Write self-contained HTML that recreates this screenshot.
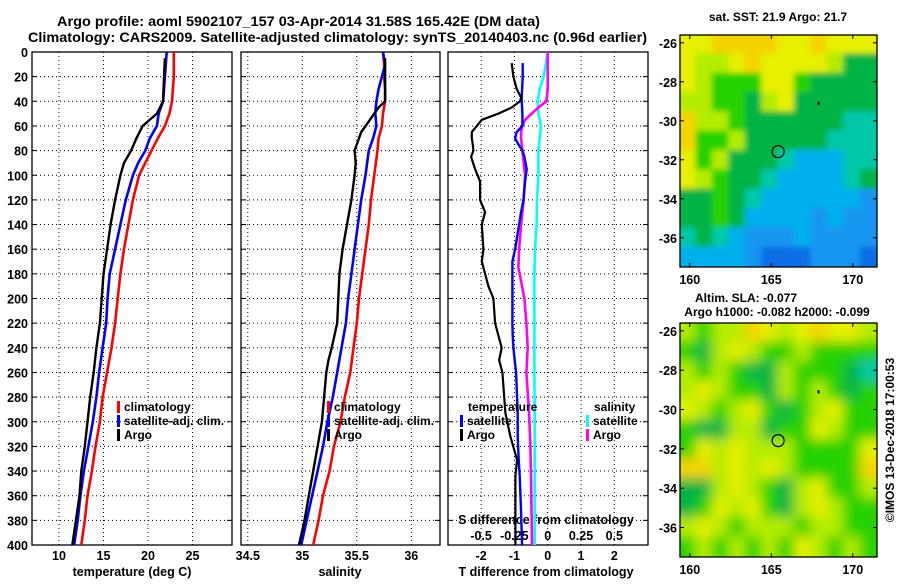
<!DOCTYPE html>
<html><head><meta charset="utf-8"><style>
html,body{margin:0;padding:0;background:#fff;}
svg text{font-family:"Liberation Sans",Arial,sans-serif;font-weight:bold;fill:#000;}
</style></head><body>
<svg id="fig" xmlns="http://www.w3.org/2000/svg" width="900" height="580" viewBox="0 0 900 580">
<defs>
<filter id="blur1" filterUnits="userSpaceOnUse" x="660" y="15" width="240" height="275"><feGaussianBlur stdDeviation="3"/></filter>
<filter id="blur2" filterUnits="userSpaceOnUse" x="660" y="300" width="240" height="280"><feGaussianBlur stdDeviation="6"/></filter>
<clipPath id="cm1"><rect x="680" y="35" width="197" height="232"/></clipPath>
<clipPath id="cm2"><rect x="680" y="323" width="197" height="234"/></clipPath>
</defs>
<text x="57" y="26" font-size="14" textLength="483" lengthAdjust="spacingAndGlyphs">Argo profile: aoml 5902107_157 03-Apr-2014 31.58S 165.42E (DM data)</text>
<text x="28" y="42" font-size="14" textLength="619" lengthAdjust="spacingAndGlyphs">Climatology: CARS2009. Satellite-adjusted climatology: synTS_20140403.nc (0.96d earlier)</text>
<g id="g"></g>
</svg>
<script>
// ---------- data ----------
const depthT = [0,20,40,50,60,70,80,90,100,120,140,160,180,200,220,240,260,280,300,320,340,360,380,400];
const tempClim = [22.9,22.9,22.7,22.4,21.9,21.1,20.4,19.7,19.0,18.3,17.8,17.3,16.9,16.6,16.3,15.9,15.4,14.9,14.6,14.1,13.7,13.2,12.9,12.5];
const tempSat  = [22.1,21.9,21.7,21.2,21.0,20.2,19.7,18.9,18.3,17.5,16.9,16.3,15.7,15.45,15.3,14.9,14.5,14.2,13.8,13.3,12.8,12.4,12.1,11.7];
const depthArgo = [5,20,40,50,60,70,80,90,100,120,140,160,180,200,220,240,260,280,300,320,340,360,380,400];
const tempArgo = [21.9,21.8,21.7,21.0,19.4,18.7,18.1,17.3,16.9,16.3,15.8,15.4,15.0,14.8,14.6,14.2,13.9,13.5,13.2,12.9,12.5,12.3,11.9,11.5];
const depthS = [0,10,20,30,40,50,60,70,80,100,120,140,160,180,200,220,240,260,280,300,320,340,360,380,400];
const salClim = [35.74,35.75,35.75,35.76,35.76,35.74,35.73,35.70,35.69,35.66,35.63,35.61,35.58,35.55,35.52,35.50,35.47,35.44,35.39,35.35,35.29,35.25,35.19,35.15,35.10];
const salSat  = [35.74,35.76,35.73,35.70,35.68,35.67,35.68,35.65,35.61,35.58,35.54,35.51,35.48,35.45,35.42,35.40,35.36,35.32,35.28,35.23,35.19,35.14,35.09,35.04,34.99];
const depthSA = [5,40,45,55,65,75,80,90,100,120,140,160,180,200,220,240,250,260,280,300,320,340,360,380,400];
const salArgo = [35.76,35.76,35.70,35.62,35.54,35.50,35.48,35.49,35.48,35.45,35.41,35.37,35.34,35.33,35.32,35.27,35.24,35.22,35.20,35.18,35.14,35.10,35.06,35.02,34.97];
const depthD = [9,20,30,37,40,45,50,55,60,65,70,75,80,85,95,105,120,130,140,160,170,180,190,200,220,230,240,250,260,293,312,331,344,374,400];
const dTArgo = [-1.08,-1.03,-0.93,-0.8,-0.83,-1.08,-1.48,-1.98,-2.13,-2.28,-2.28,-2.25,-2.23,-2.3,-2.18,-2.03,-2.03,-1.88,-1.98,-1.93,-1.98,-1.88,-1.78,-1.63,-1.58,-1.48,-1.38,-1.46,-1.36,-1.27,-1.12,-0.92,-0.97,-0.97,-0.97];
const dTSat = [-0.75,-0.75,-0.77,-0.78,-0.78,-0.77,-0.76,-0.76,-0.76,-0.93,-0.98,-0.88,-0.76,-0.7,-0.63,-0.68,-0.73,-0.8,-0.86,-0.98,-1.06,-1.06,-1.06,-1.06,-1.06,-1.05,-1.03,-0.99,-0.95,-0.9,-0.9,-0.87,-0.84,-0.8,-0.77];
const depthDS = [0,10,20,30,40,45,50,55,60,65,70,80,100,120,140,160,175,180,200,220,240,260,293,320,347,400];
const dSArgo = [0,0,0,0,-0.01,-0.07,-0.12,-0.17,-0.19,-0.2,-0.2,-0.19,-0.17,-0.18,-0.2,-0.215,-0.22,-0.21,-0.175,-0.16,-0.15,-0.16,-0.14,-0.13,-0.125,-0.1175];
const dSSat  = [0,-0.015,-0.03,-0.06,-0.075,-0.072,-0.07,-0.06,-0.05,-0.055,-0.06,-0.07,-0.07,-0.08,-0.083,-0.095,-0.098,-0.1,-0.1,-0.1,-0.1,-0.1,-0.0975,-0.0975,-0.0975,-0.0975];
const depthTicks = [0,20,40,60,80,100,120,140,160,180,200,220,240,260,280,300,320,340,360,380,400];
const tempTicks = [10,15,20,25];
const salTicks = [34.5,35,35.5,36];
const dTTicks = [-2,-1,0,1,2];
const dSTicks = [-0.5,-0.25,0,0.25,0.5];
const dSTickLabels = ["-0.5","-0.25","0","0.25","0.5"];
const latTicks = [-26,-28,-30,-32,-34,-36];
const lonTicks = [160,165,170];
const sstGrid = ["YYOOOOYYOYYY","YLLYOYYYYLDD","YLGGGYYGDDDD","LLGGDLYDDDDD","OLLGDDDDDDTT","OGGLDDDDDTTT","YGLDDDTCCCTT","YLGDDTCCCCTD","DDGDTCCCCCCB","DDGDCCCCBCBB","TDTCBBBCBBBB","CCCCBNNNBBBN"];
const slaGrid = ["LGLLOYLYOYYL","GDLYLGGLGGGG","LGLGDDLGGGDT","LYLGGDLGLGDG","YLGLYGDGLYGG","GDDLLDGGYLGG","GYLYLLLGGGGY","OOLYLYLGGGGO","DDLYLGDLYGGL","DGYLYGDLYLGG","LYLGLLLGLLGG","GLGLGLGYLGLG"];
const argoLon = 165.42, argoLat = -31.58;

// ---------- helpers ----------
const NS="http://www.w3.org/2000/svg";
const G=document.getElementById('g');
function mk(tag,attrs,parent){const e=document.createElementNS(NS,tag);for(const k in attrs)e.setAttribute(k,attrs[k]);(parent||G).appendChild(e);return e;}
const Y0=52, YS=1.2325;
const yD = d => Y0 + d*YS;
const xT = t => 59 + (t-10)*8.9;
const xS = s => 302.3 + (s-35)*109;
const xDT = t => 547.7 + t*33.3;
const xDS = s => 547.7 + s*133.2;
const panels=[{x:32,w:200,name:'temperature-panel'},{x:241,w:199,name:'salinity-panel'},{x:448,w:200,name:'difference-panel'}];

function panel(p,vticks,xf){
  const g=mk('g',{});
  
  
  depthTicks.forEach(d=>{ if(d>0&&d<400){
    const l=mk('line',{x1:p.x,x2:p.x+p.w,y1:yD(d),y2:yD(d),stroke:'#000','stroke-width':1,'stroke-dasharray':'1,3'},g);
    
    
  }
    mk('line',{x1:p.x,x2:p.x+5,y1:yD(d),y2:yD(d),stroke:'#000'},g);
    mk('line',{x1:p.x+p.w-5,x2:p.x+p.w,y1:yD(d),y2:yD(d),stroke:'#000'},g);
  });
  vticks.forEach(v=>{const x=xf(v); if(x>p.x+1&&x<p.x+p.w-1){
    const l=mk('line',{x1:x,x2:x,y1:Y0,y2:yD(400),stroke:'#000','stroke-width':1,'stroke-dasharray':'1,3'},g);
    
    
  }});
  const r=mk('rect',{x:p.x,y:Y0,width:p.w,height:yD(400)-Y0,fill:'none',stroke:'#000','stroke-width':1.3},g);
  
  
  return g;
}
function line(xs,ds,xf,color,w,name){
  const pts=xs.map((v,i)=>xf(v).toFixed(1)+','+yD(ds[i]).toFixed(1)).join(' ');
  const e=mk('polyline',{points:pts,fill:'none',stroke:color,'stroke-width':w,'stroke-linejoin':'round'});
  
  
}
function txt(x,y,s,size,anchor,name){
  const e=mk('text',{x:x,y:y,'font-size':size,'text-anchor':anchor||'start'});
  e.textContent=s;
  
  
  return e;
}
function legend(x,y,color,label,name){
  const r=mk('rect',{x:x,y:y-10,width:3,height:12,fill:color});
  
  
  txt(x+7,y,label,12,'start',name);
}

// ---------- panels ----------
panel(panels[0],tempTicks,xT);
panel(panels[1],salTicks,xS);
panel(panels[2],dTTicks,xDT);
depthTicks.forEach(d=>txt(28,yD(d)+5,String(d),12.5,'end','depth-tick-label'));
tempTicks.forEach(t=>txt(xT(t),560,String(t),12.5,'middle','temp-tick-label'));
salTicks.forEach(s=>txt(xS(s),560,String(s),12.5,'middle','salinity-tick-label'));
dTTicks.forEach(t=>txt(xDT(t),560,String(t),12.5,'middle','tdiff-tick-label'));
dSTicks.forEach((s,i)=>txt(xDS(s),540,dSTickLabels[i],12.5,'middle','sdiff-tick-label'));
txt(132,576,'temperature (deg C)',12.5,'middle','temperature-axis-title');
txt(340,576,'salinity',12.5,'middle','salinity-axis-title');
txt(546,576,'T difference from climatology',12.5,'middle','tdiff-axis-title');
txt(546,524,'S difference from climatology',12.5,'middle','sdiff-axis-title');

// series
line(tempClim,depthT,xT,'#ff0000',2.6,'temp-climatology-line');
line(tempSat,depthT,xT,'#0000ff',2.6,'temp-satellite-line');
line(tempArgo,depthArgo,xT,'#000000',2.4,'temp-argo-line');
line(salClim,depthS,xS,'#ff0000',2.6,'salinity-climatology-line');
line(salSat,depthS,xS,'#0000ff',2.6,'salinity-satellite-line');
line(salArgo,depthSA,xS,'#000000',2.4,'salinity-argo-line');
line(dSSat,depthDS,xDS,'#00ffff',2.6,'sdiff-satellite-line');
line(dSArgo,depthDS,xDS,'#ff00ff',2.6,'sdiff-argo-line');
line(dTSat,depthD,xDT,'#0000ff',2.4,'tdiff-satellite-line');
line(dTArgo,depthD,xDT,'#000000',2.2,'tdiff-argo-line');

// legends
legend(117,411,'#ff0000','climatology','legend-climatology');
legend(117,425,'#0000ff','satellite-adj. clim.','legend-satellite');
legend(117,439,'#000000','Argo','legend-argo');
legend(327,411,'#ff0000','climatology','legend-sal-climatology');
legend(327,425,'#0000ff','satellite-adj. clim.','legend-sal-satellite');
legend(327,439,'#000000','Argo','legend-sal-argo');
txt(468,411,'temperature',12,'start','legend-temperature-heading');
legend(460,425,'#0000ff','satellite','legend-tdiff-satellite');
legend(460,439,'#000000','Argo','legend-tdiff-argo');
txt(594,411,'salinity',12,'start','legend-salinity-heading');
legend(586,425,'#00ffff','satellite','legend-sdiff-satellite');
legend(586,439,'#ff00ff','Argo','legend-sdiff-argo');

// ---------- maps ----------
const COL={Y:'#e6f000',O:'#f4d400',L:'#b4ec00',G:'#28d200',D:'#00b444',T:'#00c8a8',C:'#00b0ec',B:'#1496f0',N:'#0a6ee6'};
function map(y0,h,grid,clip,filt,name,t1,t2){
  const x0=680,w=197;
  const lonX=lon=>x0+(lon-159.4)*16.3;
  const latY=lat=>y0+(-25.6-lat)*(h/11.9);
  const g=mk('g',{'clip-path':'url(#'+clip+')'});
  
  
  const gi=mk('g',{filter:'url(#'+filt+')'},g);
  const cw=w/12, ch=h/12, pad=15;
  grid.forEach((row,r)=>{[...row].forEach((c,k)=>{
    const x1=x0+k*cw-(k===0?pad:1), x2=x0+(k+1)*cw+(k===11?pad:1);
    const y1=y0+r*ch-(r===0?pad:1), y2=y0+(r+1)*ch+(r===11?pad:1);
    mk('rect',{x:x1,y:y1,width:x2-x1,height:y2-y1,fill:COL[c]},gi);
  });});
  const c=mk('circle',{cx:lonX(argoLon),cy:latY(argoLat),r:6,fill:'none',stroke:'#000','stroke-width':1.2});
  
  
  mk('rect',{x:lonX(167.9)-1,y:latY(-29.1)-1.5,width:2,height:3,fill:'#000'});
  const f=mk('rect',{x:x0,y:y0,width:w,height:h,fill:'none',stroke:'#000','stroke-width':1.3});
  
  
  latTicks.forEach(l=>{const y=latY(l);
    mk('line',{x1:x0,x2:x0+4,y1:y,y2:y,stroke:'#000'});
    mk('line',{x1:x0+w-4,x2:x0+w,y1:y,y2:y,stroke:'#000'});
    txt(677,y+5,String(l),12.5,'end',name+'-lat-label');
  });
  lonTicks.forEach(l=>{const x=lonX(l);
    mk('line',{x1:x,x2:x,y1:y0,y2:y0+4,stroke:'#000'});
    mk('line',{x1:x,x2:x,y1:y0+h-4,y2:y0+h,stroke:'#000'});
    txt(x,y0+h+17,String(l),12.5,'middle',name+'-lon-label');
  });
  if(t1) txt(t1[0],t1[1],t1[2],12,t1[3],name+'-title');
  if(t2) txt(t2[0],t2[1],t2[2],12,t2[3],name+'-subtitle');
}
map(35,232,sstGrid,'cm1','blur1','sst-map',[778,21,'sat. SST: 21.9 Argo: 21.7','middle']);
map(323,234,slaGrid,'cm2','blur2','sla-map',[746,302,'Altim. SLA: -0.077','middle'],[777,316,'Argo h1000: -0.082 h2000: -0.099','middle']);
const cp=mk('text',{x:0,y:0,'font-size':12,'text-anchor':'middle',transform:'translate(894,440) rotate(-90)','font-weight':'normal'});
cp.textContent='©IMOS 13-Dec-2018 17:00:53';


</script>
</body></html>
